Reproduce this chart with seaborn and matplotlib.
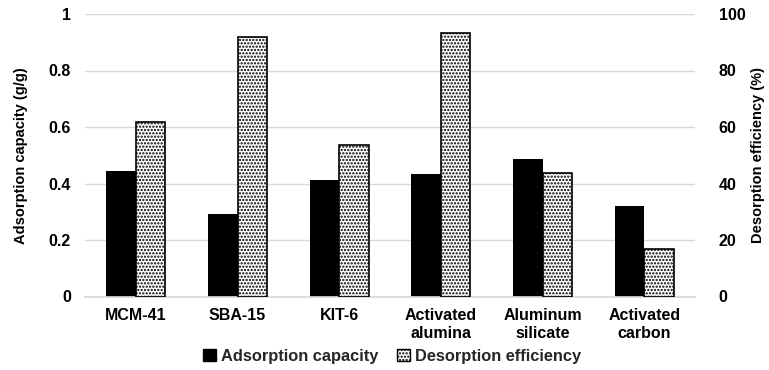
import matplotlib
matplotlib.use("Agg")
import matplotlib.pyplot as plt
import matplotlib.patches as mpatches
import numpy as np
import pandas as pd
import seaborn as sns

# Sorbent materials and their measured properties
materials = ["MCM-41", "SBA-15", "KIT-6", "Activated\nalumina",
             "Aluminum\nsilicate", "Activated\ncarbon"]
adsorption_capacity = [0.443, 0.293, 0.414, 0.432, 0.488, 0.320]    # g/g
desorption_efficiency = [61.6, 92.0, 53.8, 93.4, 43.6, 16.8]        # %

series = ["Adsorption capacity", "Desorption efficiency"]
left_ticks = [0, 0.2, 0.4, 0.6, 0.8, 1]
left_ticklabels = ["0", "0.2", "0.4", "0.6", "0.8", "1"]
right_ticks = [0, 20, 40, 60, 80, 100]

sns.set_theme(style="white")
plt.rcParams["font.family"] = ["Liberation Sans", "DejaVu Sans"]
plt.rcParams["font.weight"] = "bold"
plt.rcParams["hatch.linewidth"] = 1.1

DOTS = "....."

ads_df = pd.DataFrame({"material": materials, "series": series[0],
                       "value": adsorption_capacity})
des_df = pd.DataFrame({"material": materials, "series": series[1],
                       "value": desorption_efficiency})

fig = plt.figure(figsize=(7.69, 3.70), dpi=100)
ax = fig.add_axes([85 / 769, 1 - 296.5 / 370, 610 / 769, 282.5 / 370])
ax2 = ax.twinx()

sns.barplot(data=ads_df, x="material", y="value", hue="series",
            hue_order=series, order=materials, palette=["black", "white"],
            width=0.58, gap=0, dodge=True, saturation=1, errorbar=None,
            legend=False, ax=ax, linewidth=0)
sns.barplot(data=des_df, x="material", y="value", hue="series",
            hue_order=series, order=materials, palette=["black", "white"],
            width=0.58, gap=0, dodge=True, saturation=1, errorbar=None,
            legend=False, ax=ax2, linewidth=1.2, edgecolor="black")
for bar in ax2.patches:
    bar.set_hatch(DOTS)

ax.set_ylim(0, 1)
ax2.set_ylim(0, 100)
ax.set_xlim(-0.5, len(materials) - 0.5)
ax.set_yticks(left_ticks)
ax.set_yticklabels(left_ticklabels)
ax2.set_yticks(right_ticks)

ax.yaxis.grid(True, color="#d9d9d9", linewidth=1.0)
ax.set_axisbelow(True)
for a in (ax, ax2):
    for s in a.spines.values():
        s.set_visible(False)
    a.tick_params(length=0, labelsize=11.5, colors="black")
    a.set_xlabel("")
ax.spines["bottom"].set_visible(True)
ax.spines["bottom"].set_color("#d9d9d9")
ax.tick_params(axis="y", pad=10)
ax2.tick_params(axis="y", pad=17)
ax.tick_params(axis="x", pad=8)
for lbl in ax.get_xticklabels():
    lbl.set_linespacing(1.25)
ax2.grid(False)

ax.set_ylabel("Adsorption capacity (g/g)", fontsize=10.5, fontweight="bold",
              color="black", labelpad=15)
ax2.set_ylabel("Desorption efficiency (%)", fontsize=10.5, fontweight="bold",
               color="black", labelpad=4)

handles = [mpatches.Patch(facecolor="black", edgecolor="black"),
           mpatches.Patch(facecolor="white", edgecolor="black", hatch=DOTS)]
fig.legend(handles, series, loc="center", bbox_to_anchor=(392 / 769, 1 - 356 / 370),
           ncol=2, frameon=False, fontsize=11.8, handlelength=0.8,
           handleheight=0.7, handletextpad=0.3, columnspacing=1.1)

fig.savefig("out.png", dpi=100)
